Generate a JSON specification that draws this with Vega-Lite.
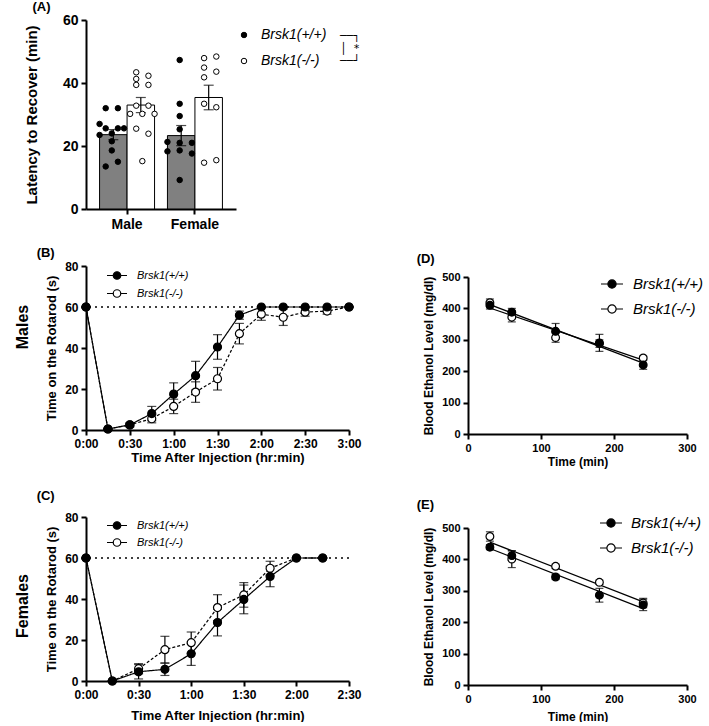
{
  "$schema": "https://vega.github.io/schema/vega-lite/v6.json",
  "padding": {"left": 14, "top": 1, "right": 0, "bottom": 0},
  "config": {
    "font": "Liberation Sans",
    "view": {"stroke": null},
    "axis": {"domainColor": "black", "domainWidth": 2, "tickColor": "black", "tickWidth": 2, "tickSize": 5, "labelColor": "black", "labelFontWeight": "bold", "titleColor": "black", "titleFontWeight": "bold", "grid": false, "labelPadding": 3, "labelFlush": false, "labelOverlap": false},
    "title": {"fontWeight": "bold", "color": "black"},
    "legend": {"labelColor": "black", "labelFontStyle": "italic", "padding": 0, "labelFont": "Liberation Sans"}
  },
  "datasets": {
    "aBars": [
      {"sex": "Male", "genotype": "Brsk1(+/+)", "mean": 23.6, "sem": 1.6},
      {"sex": "Male", "genotype": "Brsk1(-/-)", "mean": 33.0, "sem": 2.4},
      {"sex": "Female", "genotype": "Brsk1(+/+)", "mean": 23.3, "sem": 3.2},
      {"sex": "Female", "genotype": "Brsk1(-/-)", "mean": 35.4, "sem": 3.9}
    ],
    "aPoints": [
      {"sex": "Male", "genotype": "Brsk1(+/+)", "value": 32.0, "slot": -1},
      {"sex": "Male", "genotype": "Brsk1(+/+)", "value": 32.0, "slot": 1},
      {"sex": "Male", "genotype": "Brsk1(+/+)", "value": 27.0, "slot": -2},
      {"sex": "Male", "genotype": "Brsk1(+/+)", "value": 25.6, "slot": -1},
      {"sex": "Male", "genotype": "Brsk1(+/+)", "value": 25.6, "slot": 1},
      {"sex": "Male", "genotype": "Brsk1(+/+)", "value": 25.6, "slot": 2},
      {"sex": "Male", "genotype": "Brsk1(+/+)", "value": 24.0, "slot": 0},
      {"sex": "Male", "genotype": "Brsk1(+/+)", "value": 23.5, "slot": -2},
      {"sex": "Male", "genotype": "Brsk1(+/+)", "value": 21.5, "slot": 0},
      {"sex": "Male", "genotype": "Brsk1(+/+)", "value": 18.6, "slot": 0},
      {"sex": "Male", "genotype": "Brsk1(+/+)", "value": 15.0, "slot": 1},
      {"sex": "Male", "genotype": "Brsk1(+/+)", "value": 13.5, "slot": -1},
      {"sex": "Male", "genotype": "Brsk1(-/-)", "value": 43.4, "slot": -1},
      {"sex": "Male", "genotype": "Brsk1(-/-)", "value": 42.3, "slot": 1},
      {"sex": "Male", "genotype": "Brsk1(-/-)", "value": 41.3, "slot": -1},
      {"sex": "Male", "genotype": "Brsk1(-/-)", "value": 39.4, "slot": -1},
      {"sex": "Male", "genotype": "Brsk1(-/-)", "value": 39.4, "slot": 1},
      {"sex": "Male", "genotype": "Brsk1(-/-)", "value": 32.8, "slot": -1},
      {"sex": "Male", "genotype": "Brsk1(-/-)", "value": 32.8, "slot": 1},
      {"sex": "Male", "genotype": "Brsk1(-/-)", "value": 30.2, "slot": -2},
      {"sex": "Male", "genotype": "Brsk1(-/-)", "value": 30.2, "slot": 0},
      {"sex": "Male", "genotype": "Brsk1(-/-)", "value": 30.2, "slot": 2},
      {"sex": "Male", "genotype": "Brsk1(-/-)", "value": 25.5, "slot": -1},
      {"sex": "Male", "genotype": "Brsk1(-/-)", "value": 23.9, "slot": 1},
      {"sex": "Male", "genotype": "Brsk1(-/-)", "value": 15.2, "slot": 0},
      {"sex": "Female", "genotype": "Brsk1(+/+)", "value": 47.3, "slot": 0},
      {"sex": "Female", "genotype": "Brsk1(+/+)", "value": 33.4, "slot": 0},
      {"sex": "Female", "genotype": "Brsk1(+/+)", "value": 29.5, "slot": 0},
      {"sex": "Female", "genotype": "Brsk1(+/+)", "value": 25.3, "slot": 0},
      {"sex": "Female", "genotype": "Brsk1(+/+)", "value": 21.3, "slot": -2},
      {"sex": "Female", "genotype": "Brsk1(+/+)", "value": 21.0, "slot": 0},
      {"sex": "Female", "genotype": "Brsk1(+/+)", "value": 21.0, "slot": 2},
      {"sex": "Female", "genotype": "Brsk1(+/+)", "value": 18.3, "slot": -2},
      {"sex": "Female", "genotype": "Brsk1(+/+)", "value": 18.6, "slot": 0},
      {"sex": "Female", "genotype": "Brsk1(+/+)", "value": 17.6, "slot": 2},
      {"sex": "Female", "genotype": "Brsk1(+/+)", "value": 9.2, "slot": 0},
      {"sex": "Female", "genotype": "Brsk1(-/-)", "value": 47.9, "slot": -1},
      {"sex": "Female", "genotype": "Brsk1(-/-)", "value": 48.4, "slot": 1},
      {"sex": "Female", "genotype": "Brsk1(-/-)", "value": 44.9, "slot": -1},
      {"sex": "Female", "genotype": "Brsk1(-/-)", "value": 43.6, "slot": 1},
      {"sex": "Female", "genotype": "Brsk1(-/-)", "value": 41.8, "slot": -1},
      {"sex": "Female", "genotype": "Brsk1(-/-)", "value": 33.4, "slot": -1},
      {"sex": "Female", "genotype": "Brsk1(-/-)", "value": 32.3, "slot": 1},
      {"sex": "Female", "genotype": "Brsk1(-/-)", "value": 15.5, "slot": 1},
      {"sex": "Female", "genotype": "Brsk1(-/-)", "value": 14.7, "slot": -1}
    ],
    "males": [
      {"genotype": "Brsk1(+/+)", "time": 0, "mean": 60, "sem": 0},
      {"genotype": "Brsk1(+/+)", "time": 15, "mean": 0.5, "sem": 0},
      {"genotype": "Brsk1(+/+)", "time": 30, "mean": 2.5, "sem": 0.5},
      {"genotype": "Brsk1(+/+)", "time": 45, "mean": 8, "sem": 3.5},
      {"genotype": "Brsk1(+/+)", "time": 60, "mean": 17.5, "sem": 5.5},
      {"genotype": "Brsk1(+/+)", "time": 75, "mean": 26.5, "sem": 7},
      {"genotype": "Brsk1(+/+)", "time": 90, "mean": 40.5, "sem": 6},
      {"genotype": "Brsk1(+/+)", "time": 105, "mean": 56, "sem": 2},
      {"genotype": "Brsk1(+/+)", "time": 120, "mean": 60, "sem": 0},
      {"genotype": "Brsk1(+/+)", "time": 135, "mean": 60, "sem": 0},
      {"genotype": "Brsk1(+/+)", "time": 150, "mean": 60, "sem": 0},
      {"genotype": "Brsk1(+/+)", "time": 165, "mean": 60, "sem": 0},
      {"genotype": "Brsk1(+/+)", "time": 180, "mean": 60, "sem": 0},
      {"genotype": "Brsk1(-/-)", "time": 0, "mean": 60, "sem": 0},
      {"genotype": "Brsk1(-/-)", "time": 15, "mean": 0.5, "sem": 0},
      {"genotype": "Brsk1(-/-)", "time": 30, "mean": 2.5, "sem": 1},
      {"genotype": "Brsk1(-/-)", "time": 45, "mean": 5.5, "sem": 2},
      {"genotype": "Brsk1(-/-)", "time": 60, "mean": 11.5, "sem": 3.5},
      {"genotype": "Brsk1(-/-)", "time": 75, "mean": 18.5, "sem": 5},
      {"genotype": "Brsk1(-/-)", "time": 90, "mean": 25, "sem": 5.5},
      {"genotype": "Brsk1(-/-)", "time": 105, "mean": 47, "sem": 5},
      {"genotype": "Brsk1(-/-)", "time": 120, "mean": 56.5, "sem": 3},
      {"genotype": "Brsk1(-/-)", "time": 135, "mean": 55, "sem": 4},
      {"genotype": "Brsk1(-/-)", "time": 150, "mean": 57.5, "sem": 2},
      {"genotype": "Brsk1(-/-)", "time": 165, "mean": 58, "sem": 1.5},
      {"genotype": "Brsk1(-/-)", "time": 180, "mean": 60, "sem": 0}
    ],
    "females": [
      {"genotype": "Brsk1(+/+)", "time": 0, "mean": 60, "sem": 0},
      {"genotype": "Brsk1(+/+)", "time": 15, "mean": 0, "sem": 0},
      {"genotype": "Brsk1(+/+)", "time": 30, "mean": 4.5, "sem": 3.5},
      {"genotype": "Brsk1(+/+)", "time": 45, "mean": 5.7, "sem": 3},
      {"genotype": "Brsk1(+/+)", "time": 60, "mean": 13.3, "sem": 5.7},
      {"genotype": "Brsk1(+/+)", "time": 75, "mean": 28.5, "sem": 6.5},
      {"genotype": "Brsk1(+/+)", "time": 90, "mean": 39.8, "sem": 7},
      {"genotype": "Brsk1(+/+)", "time": 105, "mean": 51, "sem": 5},
      {"genotype": "Brsk1(+/+)", "time": 120, "mean": 60, "sem": 0},
      {"genotype": "Brsk1(+/+)", "time": 135, "mean": 60, "sem": 0},
      {"genotype": "Brsk1(-/-)", "time": 0, "mean": 60, "sem": 0},
      {"genotype": "Brsk1(-/-)", "time": 15, "mean": 0, "sem": 0},
      {"genotype": "Brsk1(-/-)", "time": 30, "mean": 6, "sem": 2.5},
      {"genotype": "Brsk1(-/-)", "time": 45, "mean": 15.3, "sem": 6.5},
      {"genotype": "Brsk1(-/-)", "time": 60, "mean": 18.7, "sem": 5.2},
      {"genotype": "Brsk1(-/-)", "time": 75, "mean": 35.8, "sem": 6.3},
      {"genotype": "Brsk1(-/-)", "time": 90, "mean": 42, "sem": 6},
      {"genotype": "Brsk1(-/-)", "time": 105, "mean": 55, "sem": 3.4},
      {"genotype": "Brsk1(-/-)", "time": 120, "mean": 60, "sem": 0},
      {"genotype": "Brsk1(-/-)", "time": 135, "mean": 60, "sem": 0}
    ],
    "becMales": [
      {"genotype": "Brsk1(+/+)", "time": 30, "mean": 410, "sem": 12},
      {"genotype": "Brsk1(+/+)", "time": 60, "mean": 388, "sem": 12},
      {"genotype": "Brsk1(+/+)", "time": 120, "mean": 327, "sem": 25},
      {"genotype": "Brsk1(+/+)", "time": 180, "mean": 290, "sem": 27},
      {"genotype": "Brsk1(+/+)", "time": 240, "mean": 220, "sem": 14},
      {"genotype": "Brsk1(-/-)", "time": 30, "mean": 418, "sem": 12},
      {"genotype": "Brsk1(-/-)", "time": 60, "mean": 372, "sem": 15},
      {"genotype": "Brsk1(-/-)", "time": 120, "mean": 307, "sem": 15},
      {"genotype": "Brsk1(-/-)", "time": 180, "mean": 288, "sem": 12},
      {"genotype": "Brsk1(-/-)", "time": 240, "mean": 242, "sem": 6}
    ],
    "becFemales": [
      {"genotype": "Brsk1(+/+)", "time": 30, "mean": 439, "sem": 8},
      {"genotype": "Brsk1(+/+)", "time": 60, "mean": 412, "sem": 15},
      {"genotype": "Brsk1(+/+)", "time": 120, "mean": 344, "sem": 8},
      {"genotype": "Brsk1(+/+)", "time": 180, "mean": 286, "sem": 22},
      {"genotype": "Brsk1(+/+)", "time": 240, "mean": 255, "sem": 18},
      {"genotype": "Brsk1(-/-)", "time": 30, "mean": 473, "sem": 15},
      {"genotype": "Brsk1(-/-)", "time": 60, "mean": 401, "sem": 27},
      {"genotype": "Brsk1(-/-)", "time": 120, "mean": 378, "sem": 7},
      {"genotype": "Brsk1(-/-)", "time": 180, "mean": 327, "sem": 7},
      {"genotype": "Brsk1(-/-)", "time": 240, "mean": 261, "sem": 15}
    ]
  },
  "spacing": 16,
  "resolve": {"scale": {"fill": "independent"}, "legend": {"fill": "independent"}},
  "vconcat": [
    {
      "hconcat": [
        {
          "width": 150, "height": 189,
          "title": {"text": "(A)", "anchor": "start", "frame": "bounds", "fontSize": 13, "dx": 8, "offset": -1},
          "resolve": {"scale": {"xOffset": "independent"}},
          "layer": [
            {
              "data": {"name": "aBars"},
              "mark": {"type": "bar", "stroke": "black", "strokeWidth": 1},
              "encoding": {
                "x": {"field": "sex", "type": "nominal", "sort": ["Male", "Female"], "scale": {"paddingInner": 0.19, "paddingOuter": 0.2}, "axis": {"title": null, "labelAngle": 0, "labelFontSize": 14}},
                "xOffset": {"field": "genotype", "type": "nominal", "sort": ["Brsk1(+/+)", "Brsk1(-/-)"], "scale": {"paddingInner": 0, "paddingOuter": 0}},
                "y": {"field": "mean", "type": "quantitative", "scale": {"domain": [0, 60]}, "axis": {"values": [0, 20, 40, 60], "title": "Latency to Recover (min)", "titleFontSize": 15, "labelFontSize": 14, "titlePadding": 23}},
                "fill": {"condition": {"test": "datum.genotype === 'Brsk1(+/+)'", "value": "#808080"}, "value": "white"}
              }
            },
            {
              "data": {"name": "aBars"},
              "transform": [{"calculate": "datum.mean - datum.sem", "as": "lo"}, {"calculate": "datum.mean + datum.sem", "as": "hi"}],
              "mark": {"type": "rule", "color": "black", "strokeWidth": 1.2},
              "encoding": {
                "x": {"field": "sex", "type": "nominal", "sort": ["Male", "Female"], "axis": {"title": null, "labelAngle": 0, "labelFontSize": 14}},
                "xOffset": {"field": "genotype", "type": "nominal", "sort": ["Brsk1(+/+)", "Brsk1(-/-)"], "scale": {"paddingInner": 0, "paddingOuter": 0}},
                "y": {"field": "lo", "type": "quantitative", "axis": {"values": [0, 20, 40, 60], "title": "Latency to Recover (min)", "titleFontSize": 15, "labelFontSize": 14, "titlePadding": 23}},
                "y2": {"field": "hi"}
              }
            },
            {
              "data": {"name": "aBars"},
              "transform": [{"calculate": "datum.mean + datum.sem", "as": "hi"}],
              "mark": {"type": "tick", "color": "black", "size": 10, "thickness": 1.2},
              "encoding": {
                "x": {"field": "sex", "type": "nominal", "sort": ["Male", "Female"], "axis": {"title": null, "labelAngle": 0, "labelFontSize": 14}},
                "xOffset": {"field": "genotype", "type": "nominal", "sort": ["Brsk1(+/+)", "Brsk1(-/-)"], "scale": {"paddingInner": 0, "paddingOuter": 0}},
                "y": {"field": "hi", "type": "quantitative", "axis": {"values": [0, 20, 40, 60], "title": "Latency to Recover (min)", "titleFontSize": 15, "labelFontSize": 14, "titlePadding": 23}}
              }
            },
            {
              "data": {"name": "aBars"},
              "transform": [{"calculate": "datum.mean - datum.sem", "as": "lo"}],
              "mark": {"type": "tick", "color": "black", "size": 10, "thickness": 1.2},
              "encoding": {
                "x": {"field": "sex", "type": "nominal", "sort": ["Male", "Female"], "axis": {"title": null, "labelAngle": 0, "labelFontSize": 14}},
                "xOffset": {"field": "genotype", "type": "nominal", "sort": ["Brsk1(+/+)", "Brsk1(-/-)"], "scale": {"paddingInner": 0, "paddingOuter": 0}},
                "y": {"field": "lo", "type": "quantitative", "axis": {"values": [0, 20, 40, 60], "title": "Latency to Recover (min)", "titleFontSize": 15, "labelFontSize": 14, "titlePadding": 23}}
              }
            },
            {
              "data": {"name": "aPoints"},
              "transform": [{"calculate": "datum.genotype + '_' + datum.slot", "as": "sub"}],
              "mark": {"type": "point", "shape": "circle", "filled": true, "size": 30, "stroke": "black", "strokeWidth": 1, "opacity": 1},
              "encoding": {
                "x": {"field": "sex", "type": "nominal", "sort": ["Male", "Female"], "axis": {"title": null, "labelAngle": 0, "labelFontSize": 14}},
                "xOffset": {"field": "sub", "type": "nominal", "scale": {"domain": ["Brsk1(+/+)_-2", "Brsk1(+/+)_-1", "Brsk1(+/+)_0", "Brsk1(+/+)_1", "Brsk1(+/+)_2", "Brsk1(-/-)_-2", "Brsk1(-/-)_-1", "Brsk1(-/-)_0", "Brsk1(-/-)_1", "Brsk1(-/-)_2"], "paddingInner": 0, "paddingOuter": 0}},
                "y": {"field": "value", "type": "quantitative", "axis": {"values": [0, 20, 40, 60], "title": "Latency to Recover (min)", "titleFontSize": 15, "labelFontSize": 14, "titlePadding": 23}},
                "fill": {"field": "genotype", "type": "nominal", "scale": {"domain": ["Brsk1(+/+)", "Brsk1(-/-)"], "range": ["black", "white"]},
                  "legend": {"orient": "none", "legendX": 151, "legendY": 8, "symbolType": "circle", "symbolSize": 30, "symbolStrokeColor": "black", "symbolStrokeWidth": 1, "labelFontSize": 14, "labelOffset": 10, "rowPadding": 12,
                    "title": ["──┐", "  │ *", "──┘"], "titleOrient": "right", "titleFont": "DejaVu Sans Mono", "titleFontSize": 11, "titleLineHeight": 12.5, "titleFontWeight": "normal", "titleColor": "black", "titlePadding": 14}}
              }
            }
          ]
        }
      ]
    },
    {
      "spacing": 23,
      "resolve": {"scale": {"fill": "independent"}, "legend": {"fill": "independent"}},
      "vconcat": [
        {
          "title": {"text": "Males", "orient": "left", "anchor": "middle", "fontSize": 16, "offset": 6, "dx": 30},
          "spacing": 54,
          "resolve": {"scale": {"fill": "independent"}, "legend": {"fill": "independent"}},
          "hconcat": [
            {
              "width": 263, "height": 164,
              "title": {"text": "(B)", "anchor": "start", "frame": "bounds", "fontSize": 13, "dx": -9, "offset": 0},
              "layer": [
                {
                  "data": {"values": [{}]},
                  "mark": {"type": "rule", "strokeDash": [2, 4], "strokeWidth": 1.5, "color": "black"},
                  "encoding": {"y": {"datum": 60, "type": "quantitative"}}
                },
                {
                  "data": {"name": "males"},
                  "transform": [{"calculate": "datum.mean - datum.sem", "as": "lo"}, {"calculate": "datum.mean + datum.sem", "as": "hi"}],
                  "mark": {"type": "rule", "color": "black", "strokeWidth": 1.2},
                  "encoding": {
                    "x": {"field": "time", "type": "quantitative", "scale": {"domain": [0, 180], "nice": false}, "axis": {"values": [0, 30, 60, 90, 120, 150, 180], "labelExpr": "floor(datum.value/60) + ':' + (datum.value % 60 < 10 ? '0' : '') + (datum.value % 60)", "title": "Time After Injection (hr:min)", "labelFontSize": 12, "titleFontSize": 13, "titlePadding": 2}},
                    "y": {"field": "lo", "type": "quantitative", "scale": {"domain": [0, 80]}, "axis": {"values": [0, 20, 40, 60, 80], "title": "Time on the Rotarod (s)", "labelFontSize": 12, "titleFontSize": 13, "titlePadding": 6}},
                    "y2": {"field": "hi"}
                  }
                },
                {
                  "data": {"name": "males"},
                  "transform": [{"calculate": "datum.mean + datum.sem", "as": "hi"}],
                  "mark": {"type": "tick", "orient": "horizontal", "color": "black", "size": 9, "thickness": 1.2},
                  "encoding": {
                    "x": {"field": "time", "type": "quantitative", "axis": {"values": [0, 30, 60, 90, 120, 150, 180], "labelExpr": "floor(datum.value/60) + ':' + (datum.value % 60 < 10 ? '0' : '') + (datum.value % 60)", "title": "Time After Injection (hr:min)", "labelFontSize": 12, "titleFontSize": 13, "titlePadding": 2}},
                    "y": {"field": "hi", "type": "quantitative", "axis": {"values": [0, 20, 40, 60, 80], "title": "Time on the Rotarod (s)", "labelFontSize": 12, "titleFontSize": 13, "titlePadding": 6}}
                  }
                },
                {
                  "data": {"name": "males"},
                  "transform": [{"calculate": "datum.mean - datum.sem", "as": "lo"}],
                  "mark": {"type": "tick", "orient": "horizontal", "color": "black", "size": 9, "thickness": 1.2},
                  "encoding": {
                    "x": {"field": "time", "type": "quantitative", "axis": {"values": [0, 30, 60, 90, 120, 150, 180], "labelExpr": "floor(datum.value/60) + ':' + (datum.value % 60 < 10 ? '0' : '') + (datum.value % 60)", "title": "Time After Injection (hr:min)", "labelFontSize": 12, "titleFontSize": 13, "titlePadding": 2}},
                    "y": {"field": "lo", "type": "quantitative", "axis": {"values": [0, 20, 40, 60, 80], "title": "Time on the Rotarod (s)", "labelFontSize": 12, "titleFontSize": 13, "titlePadding": 6}}
                  }
                },
                {
                  "data": {"name": "males"},
                  "mark": {"type": "line", "color": "black", "strokeWidth": 1.2},
                  "encoding": {
                    "x": {"field": "time", "type": "quantitative", "axis": {"values": [0, 30, 60, 90, 120, 150, 180], "labelExpr": "floor(datum.value/60) + ':' + (datum.value % 60 < 10 ? '0' : '') + (datum.value % 60)", "title": "Time After Injection (hr:min)", "labelFontSize": 12, "titleFontSize": 13, "titlePadding": 2}},
                    "y": {"field": "mean", "type": "quantitative", "axis": {"values": [0, 20, 40, 60, 80], "title": "Time on the Rotarod (s)", "labelFontSize": 12, "titleFontSize": 13, "titlePadding": 6}},
                    "detail": {"field": "genotype", "type": "nominal"},
                    "strokeDash": {"condition": {"test": "datum.genotype === 'Brsk1(-/-)'", "value": [3, 2]}, "value": [1, 0]}
                  }
                },
                {
                  "data": {"name": "males"},
                  "mark": {"type": "point", "shape": "circle", "filled": true, "size": 64, "stroke": "black", "strokeWidth": 1.2, "opacity": 1},
                  "encoding": {
                    "x": {"field": "time", "type": "quantitative", "axis": {"values": [0, 30, 60, 90, 120, 150, 180], "labelExpr": "floor(datum.value/60) + ':' + (datum.value % 60 < 10 ? '0' : '') + (datum.value % 60)", "title": "Time After Injection (hr:min)", "labelFontSize": 12, "titleFontSize": 13, "titlePadding": 2}},
                    "y": {"field": "mean", "type": "quantitative", "axis": {"values": [0, 20, 40, 60, 80], "title": "Time on the Rotarod (s)", "labelFontSize": 12, "titleFontSize": 13, "titlePadding": 6}},
                    "order": {"field": "genotype", "sort": "descending"},
                    "fill": {"field": "genotype", "type": "nominal", "scale": {"domain": ["Brsk1(+/+)", "Brsk1(-/-)"], "range": ["black", "white"]},
                      "legend": {"title": null, "orient": "none", "legendX": 25, "legendY": 3.5, "symbolType": "M-2,0H-0.75M0.75,0H2M0.75,0A0.75,0.75,0,1,1,-0.75,0A0.75,0.75,0,1,1,0.75,0Z", "symbolSize": 100, "symbolStrokeColor": "black", "symbolStrokeWidth": 1.2, "labelFontSize": 11, "labelOffset": 14, "rowPadding": 4}}
                  }
                }
              ]
            },
            {
              "width": 219, "height": 168,
              "title": {"text": "(D)", "anchor": "start", "frame": "bounds", "fontSize": 13, "dx": -6, "offset": 0},
              "layer": [
                {
                  "data": {"name": "becMales"},
                  "transform": [{"calculate": "datum.mean - datum.sem", "as": "lo"}, {"calculate": "datum.mean + datum.sem", "as": "hi"}],
                  "mark": {"type": "rule", "color": "black", "strokeWidth": 1.2},
                  "encoding": {
                    "x": {"field": "time", "type": "quantitative", "scale": {"domain": [0, 300], "nice": false}, "axis": {"values": [0, 100, 200, 300], "title": "Time (min)", "labelFontSize": 11, "titleFontSize": 12, "titlePadding": 3}},
                    "y": {"field": "lo", "type": "quantitative", "scale": {"domain": [0, 500], "range": [168, 11]}, "axis": {"values": [0, 100, 200, 300, 400, 500], "title": "Blood Ethanol Level (mg/dl)", "labelFontSize": 11, "titleFontSize": 12, "titlePadding": 6}},
                    "y2": {"field": "hi"}
                  }
                },
                {
                  "data": {"name": "becMales"},
                  "transform": [{"calculate": "datum.mean + datum.sem", "as": "hi"}],
                  "mark": {"type": "tick", "orient": "horizontal", "color": "black", "size": 8, "thickness": 1.2},
                  "encoding": {
                    "x": {"field": "time", "type": "quantitative", "axis": {"values": [0, 100, 200, 300], "title": "Time (min)", "labelFontSize": 11, "titleFontSize": 12, "titlePadding": 3}},
                    "y": {"field": "hi", "type": "quantitative", "axis": {"values": [0, 100, 200, 300, 400, 500], "title": "Blood Ethanol Level (mg/dl)", "labelFontSize": 11, "titleFontSize": 12, "titlePadding": 6}}
                  }
                },
                {
                  "data": {"name": "becMales"},
                  "transform": [{"calculate": "datum.mean - datum.sem", "as": "lo"}],
                  "mark": {"type": "tick", "orient": "horizontal", "color": "black", "size": 8, "thickness": 1.2},
                  "encoding": {
                    "x": {"field": "time", "type": "quantitative", "axis": {"values": [0, 100, 200, 300], "title": "Time (min)", "labelFontSize": 11, "titleFontSize": 12, "titlePadding": 3}},
                    "y": {"field": "lo", "type": "quantitative", "axis": {"values": [0, 100, 200, 300, 400, 500], "title": "Blood Ethanol Level (mg/dl)", "labelFontSize": 11, "titleFontSize": 12, "titlePadding": 6}}
                  }
                },
                {
                  "data": {"name": "becMales"},
                  "transform": [{"regression": "mean", "on": "time", "groupby": ["genotype"]}],
                  "mark": {"type": "line", "color": "black", "strokeWidth": 1.2},
                  "encoding": {
                    "x": {"field": "time", "type": "quantitative", "axis": {"values": [0, 100, 200, 300], "title": "Time (min)", "labelFontSize": 11, "titleFontSize": 12, "titlePadding": 3}},
                    "y": {"field": "mean", "type": "quantitative", "axis": {"values": [0, 100, 200, 300, 400, 500], "title": "Blood Ethanol Level (mg/dl)", "labelFontSize": 11, "titleFontSize": 12, "titlePadding": 6}},
                    "detail": {"field": "genotype", "type": "nominal"}
                  }
                },
                {
                  "data": {"name": "becMales"},
                  "mark": {"type": "point", "shape": "circle", "filled": true, "size": 60, "stroke": "black", "strokeWidth": 1.2, "opacity": 1},
                  "encoding": {
                    "x": {"field": "time", "type": "quantitative", "axis": {"values": [0, 100, 200, 300], "title": "Time (min)", "labelFontSize": 11, "titleFontSize": 12, "titlePadding": 3}},
                    "y": {"field": "mean", "type": "quantitative", "axis": {"values": [0, 100, 200, 300, 400, 500], "title": "Blood Ethanol Level (mg/dl)", "labelFontSize": 11, "titleFontSize": 12, "titlePadding": 6}},
                    "order": {"field": "genotype", "sort": "descending"},
                    "fill": {"field": "genotype", "type": "nominal", "scale": {"domain": ["Brsk1(+/+)", "Brsk1(-/-)"], "range": ["black", "white"]},
                      "legend": {"title": null, "orient": "none", "legendX": 136.5, "legendY": 10.5, "symbolType": "M-2,0H-0.75M0.75,0H2M0.75,0A0.75,0.75,0,1,1,-0.75,0A0.75,0.75,0,1,1,0.75,0Z", "symbolSize": 121, "symbolStrokeColor": "black", "symbolStrokeWidth": 1.2, "labelFontSize": 15, "labelOffset": 13.5, "rowPadding": 9}}
                  }
                }
              ]
            }
          ]
        },
        {
          "title": {"text": "Females", "orient": "left", "anchor": "middle", "fontSize": 16, "offset": 6},
          "spacing": 54,
          "resolve": {"scale": {"fill": "independent"}, "legend": {"fill": "independent"}},
          "hconcat": [
            {
              "width": 263, "height": 164,
              "title": {"text": "(C)", "anchor": "start", "frame": "bounds", "fontSize": 13, "dx": -9, "offset": 8},
              "layer": [
                {
                  "data": {"values": [{}]},
                  "mark": {"type": "rule", "strokeDash": [2, 4], "strokeWidth": 1.5, "color": "black"},
                  "encoding": {"y": {"datum": 60, "type": "quantitative"}}
                },
                {
                  "data": {"name": "females"},
                  "transform": [{"calculate": "datum.mean - datum.sem", "as": "lo"}, {"calculate": "datum.mean + datum.sem", "as": "hi"}],
                  "mark": {"type": "rule", "color": "black", "strokeWidth": 1.2},
                  "encoding": {
                    "x": {"field": "time", "type": "quantitative", "scale": {"domain": [0, 150], "nice": false}, "axis": {"values": [0, 30, 60, 90, 120, 150], "labelExpr": "floor(datum.value/60) + ':' + (datum.value % 60 < 10 ? '0' : '') + (datum.value % 60)", "title": "Time After Injection (hr:min)", "labelFontSize": 12, "titleFontSize": 13, "titlePadding": 9}},
                    "y": {"field": "lo", "type": "quantitative", "scale": {"domain": [0, 80]}, "axis": {"values": [0, 20, 40, 60, 80], "title": "Time on the Rotarod (s)", "labelFontSize": 12, "titleFontSize": 13, "titlePadding": 6}},
                    "y2": {"field": "hi"}
                  }
                },
                {
                  "data": {"name": "females"},
                  "transform": [{"calculate": "datum.mean + datum.sem", "as": "hi"}],
                  "mark": {"type": "tick", "orient": "horizontal", "color": "black", "size": 9, "thickness": 1.2},
                  "encoding": {
                    "x": {"field": "time", "type": "quantitative", "axis": {"values": [0, 30, 60, 90, 120, 150], "labelExpr": "floor(datum.value/60) + ':' + (datum.value % 60 < 10 ? '0' : '') + (datum.value % 60)", "title": "Time After Injection (hr:min)", "labelFontSize": 12, "titleFontSize": 13, "titlePadding": 9}},
                    "y": {"field": "hi", "type": "quantitative", "axis": {"values": [0, 20, 40, 60, 80], "title": "Time on the Rotarod (s)", "labelFontSize": 12, "titleFontSize": 13, "titlePadding": 6}}
                  }
                },
                {
                  "data": {"name": "females"},
                  "transform": [{"calculate": "datum.mean - datum.sem", "as": "lo"}],
                  "mark": {"type": "tick", "orient": "horizontal", "color": "black", "size": 9, "thickness": 1.2},
                  "encoding": {
                    "x": {"field": "time", "type": "quantitative", "axis": {"values": [0, 30, 60, 90, 120, 150], "labelExpr": "floor(datum.value/60) + ':' + (datum.value % 60 < 10 ? '0' : '') + (datum.value % 60)", "title": "Time After Injection (hr:min)", "labelFontSize": 12, "titleFontSize": 13, "titlePadding": 9}},
                    "y": {"field": "lo", "type": "quantitative", "axis": {"values": [0, 20, 40, 60, 80], "title": "Time on the Rotarod (s)", "labelFontSize": 12, "titleFontSize": 13, "titlePadding": 6}}
                  }
                },
                {
                  "data": {"name": "females"},
                  "mark": {"type": "line", "color": "black", "strokeWidth": 1.2},
                  "encoding": {
                    "x": {"field": "time", "type": "quantitative", "axis": {"values": [0, 30, 60, 90, 120, 150], "labelExpr": "floor(datum.value/60) + ':' + (datum.value % 60 < 10 ? '0' : '') + (datum.value % 60)", "title": "Time After Injection (hr:min)", "labelFontSize": 12, "titleFontSize": 13, "titlePadding": 9}},
                    "y": {"field": "mean", "type": "quantitative", "axis": {"values": [0, 20, 40, 60, 80], "title": "Time on the Rotarod (s)", "labelFontSize": 12, "titleFontSize": 13, "titlePadding": 6}},
                    "detail": {"field": "genotype", "type": "nominal"},
                    "strokeDash": {"condition": {"test": "datum.genotype === 'Brsk1(-/-)'", "value": [3, 2]}, "value": [1, 0]}
                  }
                },
                {
                  "data": {"name": "females"},
                  "mark": {"type": "point", "shape": "circle", "filled": true, "size": 64, "stroke": "black", "strokeWidth": 1.2, "opacity": 1},
                  "encoding": {
                    "x": {"field": "time", "type": "quantitative", "axis": {"values": [0, 30, 60, 90, 120, 150], "labelExpr": "floor(datum.value/60) + ':' + (datum.value % 60 < 10 ? '0' : '') + (datum.value % 60)", "title": "Time After Injection (hr:min)", "labelFontSize": 12, "titleFontSize": 13, "titlePadding": 9}},
                    "y": {"field": "mean", "type": "quantitative", "axis": {"values": [0, 20, 40, 60, 80], "title": "Time on the Rotarod (s)", "labelFontSize": 12, "titleFontSize": 13, "titlePadding": 6}},
                    "order": {"field": "genotype", "sort": "descending"},
                    "fill": {"field": "genotype", "type": "nominal", "scale": {"domain": ["Brsk1(+/+)", "Brsk1(-/-)"], "range": ["black", "white"]},
                      "legend": {"title": null, "orient": "none", "legendX": 25, "legendY": 2.5, "symbolType": "M-2,0H-0.75M0.75,0H2M0.75,0A0.75,0.75,0,1,1,-0.75,0A0.75,0.75,0,1,1,0.75,0Z", "symbolSize": 100, "symbolStrokeColor": "black", "symbolStrokeWidth": 1.2, "labelFontSize": 11, "labelOffset": 14, "rowPadding": 3}}
                  }
                }
              ]
            },
            {
              "width": 219, "height": 168,
              "title": {"text": "(E)", "anchor": "start", "frame": "bounds", "fontSize": 13, "dx": -6, "offset": 4},
              "layer": [
                {
                  "data": {"name": "becFemales"},
                  "transform": [{"calculate": "datum.mean - datum.sem", "as": "lo"}, {"calculate": "datum.mean + datum.sem", "as": "hi"}],
                  "mark": {"type": "rule", "color": "black", "strokeWidth": 1.2},
                  "encoding": {
                    "x": {"field": "time", "type": "quantitative", "scale": {"domain": [0, 300], "nice": false}, "axis": {"values": [0, 100, 200, 300], "title": "Time (min)", "labelFontSize": 11, "titleFontSize": 12, "titlePadding": 7}},
                    "y": {"field": "lo", "type": "quantitative", "scale": {"domain": [0, 500], "range": [168, 11]}, "axis": {"values": [0, 100, 200, 300, 400, 500], "title": "Blood Ethanol Level (mg/dl)", "labelFontSize": 11, "titleFontSize": 12, "titlePadding": 6}},
                    "y2": {"field": "hi"}
                  }
                },
                {
                  "data": {"name": "becFemales"},
                  "transform": [{"calculate": "datum.mean + datum.sem", "as": "hi"}],
                  "mark": {"type": "tick", "orient": "horizontal", "color": "black", "size": 8, "thickness": 1.2},
                  "encoding": {
                    "x": {"field": "time", "type": "quantitative", "axis": {"values": [0, 100, 200, 300], "title": "Time (min)", "labelFontSize": 11, "titleFontSize": 12, "titlePadding": 7}},
                    "y": {"field": "hi", "type": "quantitative", "axis": {"values": [0, 100, 200, 300, 400, 500], "title": "Blood Ethanol Level (mg/dl)", "labelFontSize": 11, "titleFontSize": 12, "titlePadding": 6}}
                  }
                },
                {
                  "data": {"name": "becFemales"},
                  "transform": [{"calculate": "datum.mean - datum.sem", "as": "lo"}],
                  "mark": {"type": "tick", "orient": "horizontal", "color": "black", "size": 8, "thickness": 1.2},
                  "encoding": {
                    "x": {"field": "time", "type": "quantitative", "axis": {"values": [0, 100, 200, 300], "title": "Time (min)", "labelFontSize": 11, "titleFontSize": 12, "titlePadding": 7}},
                    "y": {"field": "lo", "type": "quantitative", "axis": {"values": [0, 100, 200, 300, 400, 500], "title": "Blood Ethanol Level (mg/dl)", "labelFontSize": 11, "titleFontSize": 12, "titlePadding": 6}}
                  }
                },
                {
                  "data": {"name": "becFemales"},
                  "transform": [{"regression": "mean", "on": "time", "groupby": ["genotype"]}],
                  "mark": {"type": "line", "color": "black", "strokeWidth": 1.2},
                  "encoding": {
                    "x": {"field": "time", "type": "quantitative", "axis": {"values": [0, 100, 200, 300], "title": "Time (min)", "labelFontSize": 11, "titleFontSize": 12, "titlePadding": 7}},
                    "y": {"field": "mean", "type": "quantitative", "axis": {"values": [0, 100, 200, 300, 400, 500], "title": "Blood Ethanol Level (mg/dl)", "labelFontSize": 11, "titleFontSize": 12, "titlePadding": 6}},
                    "detail": {"field": "genotype", "type": "nominal"}
                  }
                },
                {
                  "data": {"name": "becFemales"},
                  "mark": {"type": "point", "shape": "circle", "filled": true, "size": 60, "stroke": "black", "strokeWidth": 1.2, "opacity": 1},
                  "encoding": {
                    "x": {"field": "time", "type": "quantitative", "axis": {"values": [0, 100, 200, 300], "title": "Time (min)", "labelFontSize": 11, "titleFontSize": 12, "titlePadding": 7}},
                    "y": {"field": "mean", "type": "quantitative", "axis": {"values": [0, 100, 200, 300, 400, 500], "title": "Blood Ethanol Level (mg/dl)", "labelFontSize": 11, "titleFontSize": 12, "titlePadding": 6}},
                    "order": {"field": "genotype", "sort": "descending"},
                    "fill": {"field": "genotype", "type": "nominal", "scale": {"domain": ["Brsk1(+/+)", "Brsk1(-/-)"], "range": ["black", "white"]},
                      "legend": {"title": null, "orient": "none", "legendX": 135.5, "legendY": -1.5, "symbolType": "M-2,0H-0.75M0.75,0H2M0.75,0A0.75,0.75,0,1,1,-0.75,0A0.75,0.75,0,1,1,0.75,0Z", "symbolSize": 121, "symbolStrokeColor": "black", "symbolStrokeWidth": 1.2, "labelFontSize": 15, "labelOffset": 12.5, "rowPadding": 9}}
                  }
                }
              ]
            }
          ]
        }
      ]
    }
  ]
}
